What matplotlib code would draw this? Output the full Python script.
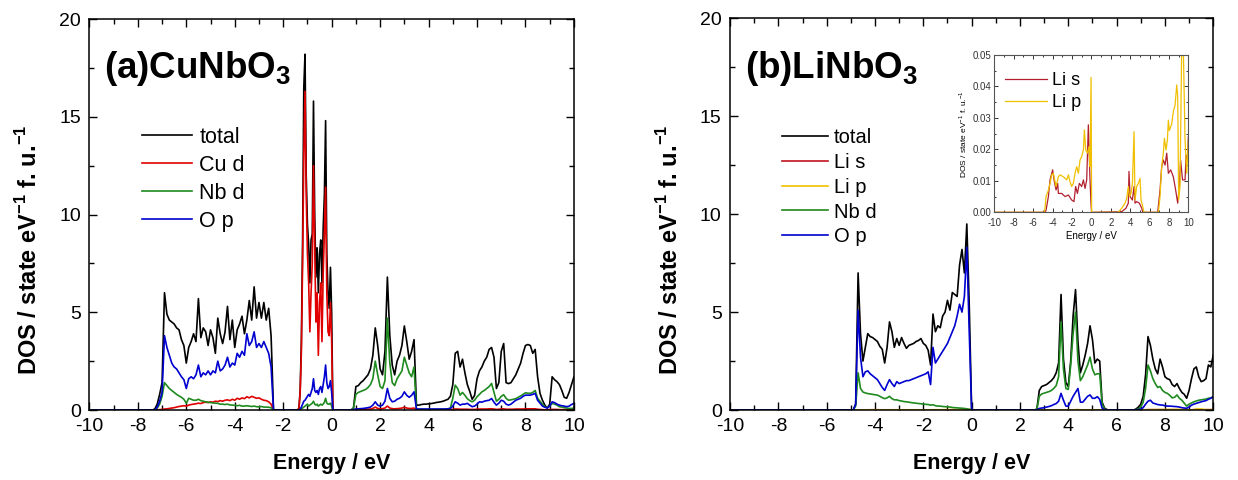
import numpy as np
import matplotlib
matplotlib.use("Agg")
import matplotlib.pyplot as plt
from matplotlib.ticker import MultipleLocator, FormatStrFormatter

plt.rcParams['font.family'] = ['Liberation Sans', 'DejaVu Sans']
plt.rcParams['mathtext.fontset'] = 'custom'
plt.rcParams['mathtext.rm'] = 'Liberation Sans'
plt.rcParams['mathtext.bf'] = 'Liberation Sans:bold'
plt.rcParams['axes.linewidth'] = 1.1
plt.rcParams['axes.unicode_minus'] = False

# ---------------- (a) CuNbO3 : partial DOS per band ----------------
E_a1 = np.round(np.arange(-7.4, -2.35, 0.1), 2)
tot_a1 = [0, 0.05, 0.3, 0.8, 1.4, 6.0, 4.9, 4.6, 4.5, 4.4,
          4.2, 4.1, 3.6, 3.3, 2.4, 3.2, 3.5, 3.9, 3.5, 5.7,
          3.7, 4.2, 4.0, 3.3, 4.1, 3.7, 2.9, 4.7, 3.9, 3.4,
          4.0, 5.3, 3.6, 4.6, 3.2, 4.1, 4.4, 4.8, 3.9, 4.6,
          5.6, 4.6, 6.3, 4.7, 5.5, 4.7, 5.5, 4.6, 5.2, 3.8, 0]
cud_a1 = [0, 0, 0.01, 0.02, 0.03, 0.05, 0.06, 0.08, 0.1, 0.12,
          0.15, 0.18, 0.2, 0.22, 0.2, 0.25, 0.28, 0.3, 0.32, 0.35,
          0.33, 0.38, 0.4, 0.38, 0.42, 0.4, 0.45, 0.43, 0.48, 0.45,
          0.5, 0.52, 0.48, 0.55, 0.5, 0.6, 0.55, 0.62, 0.58, 0.68,
          0.62, 0.7, 0.65, 0.6, 0.62, 0.55, 0.5, 0.48, 0.42, 0.3, 0]
nbd_a1 = [0, 0, 0.1, 0.3, 0.7, 1.4, 1.25, 1.1, 1.0, 0.9,
          0.8, 0.72, 0.65, 0.55, 0.35, 0.6, 0.55, 0.5, 0.5, 0.55,
          0.48, 0.45, 0.42, 0.4, 0.38, 0.36, 0.35, 0.34, 0.3, 0.3,
          0.28, 0.3, 0.26, 0.25, 0.24, 0.22, 0.24, 0.2, 0.2, 0.22,
          0.2, 0.18, 0.2, 0.17, 0.16, 0.18, 0.15, 0.15, 0.14, 0.12, 0]
op_a1 = [0, 0, 0.15, 0.45, 0.9, 3.8, 3.2, 2.8, 2.4, 2.2,
         2.1, 1.9, 1.7, 1.55, 1.1, 1.6, 1.7, 1.6, 1.8, 2.3,
         1.7, 1.9, 1.8, 2.0, 1.8, 2.0, 1.9, 2.5, 2.0, 2.1,
         2.3, 2.7, 2.2, 2.4, 2.3, 2.9, 2.7, 3.0, 2.8, 3.9,
         3.3, 3.5, 4.0, 3.2, 3.4, 3.2, 3.5, 3.2, 2.9, 2.2, 0]

E_a2 = np.round(np.arange(-1.40, 0.101, 0.05), 2)
tot_a2 = [0, 0.1, 1.0, 3.5, 8.6, 16.5, 18.2, 12.0, 9.5, 8.5,
          6.5, 8.7, 9.0, 15.8, 10.0, 6.8, 8.3, 6.0, 8.0, 8.7,
          6.5, 9.3, 11.0, 14.8, 8.0, 6.0, 5.2, 7.3, 5.0, 0, 0]
cud_a2 = [0, 0.1, 0.9, 3.0, 7.5, 13.0, 16.3, 11.0, 8.0, 6.5,
          4.0, 6.0, 7.5, 12.5, 8.5, 4.5, 6.0, 2.8, 5.5, 6.5,
          3.5, 7.0, 9.0, 11.4, 6.0, 4.0, 3.8, 5.5, 3.5, 0, 0]
nbd_a2 = [0, 0, 0.02, 0.05, 0.1, 0.15, 0.2, 0.25, 0.3, 0.2,
          0.25, 0.3, 0.35, 0.45, 0.3, 0.25, 0.3, 0.2, 0.25, 0.3,
          0.25, 0.3, 0.4, 0.6, 0.35, 0.3, 0.3, 0.35, 0.2, 0, 0]
op_a2 = [0, 0, 0.05, 0.15, 0.3, 0.45, 0.5, 0.6, 0.7, 0.8,
         0.7, 0.9, 1.1, 1.6, 1.0, 0.9, 1.0, 0.8, 1.1, 1.2,
         0.9, 1.3, 1.7, 2.3, 1.4, 1.1, 1.2, 1.5, 0.9, 0, 0]

E_a3 = np.round(np.arange(0.8, 10.001, 0.1), 2)
tot_a3 = [0, 0.1, 1.2, 1.25, 1.4, 1.5, 1.65, 1.8, 2.1, 2.8,
          4.2, 3.3, 2.1, 1.8, 3.0, 6.8, 3.8, 2.3, 1.8, 2.5,
          2.8, 3.3, 4.3, 3.5, 2.6, 3.0, 3.6, 0.25, 0.25, 0.28,
          0.3, 0.3, 0.32, 0.33, 0.35, 0.38, 0.4, 0.42, 0.45, 0.5,
          0.55, 0.7, 1.3, 2.9, 3.0, 2.2, 2.6, 1.9, 1.3, 0.95,
          0.55, 0.75, 1.6, 2.0, 2.2, 2.5, 2.7, 3.1, 3.2, 2.7,
          1.1, 1.4, 3.0, 3.4, 1.4, 1.35, 1.4, 1.6, 1.8, 2.1,
          2.4, 2.9, 3.3, 3.35, 3.3, 2.9, 3.1, 1.7, 0.85, 0.5,
          0.25, 0.1, 0.3, 1.7, 1.55, 1.45, 1.3, 1.0, 0.65, 0.6,
          0.9, 1.3, 1.7]
cud_a3 = [0, 0.01, 0.02, 0.02, 0.03, 0.03, 0.04, 0.04, 0.05, 0.08,
          0.15, 0.08, 0.06, 0.07, 0.1, 0.2, 0.1, 0.07, 0.06, 0.07,
          0.08, 0.1, 0.14, 0.1, 0.08, 0.08, 0.1, 0.01, 0.01, 0.01,
          0.01, 0.01, 0.01, 0.01, 0.01, 0.01, 0.01, 0.01, 0.01, 0.01,
          0.01, 0.02, 0.03, 0.05, 0.05, 0.04, 0.04, 0.04, 0.04, 0.03,
          0.03, 0.03, 0.04, 0.05, 0.05, 0.05, 0.05, 0.06, 0.06, 0.05,
          0.03, 0.04, 0.05, 0.06, 0.04, 0.04, 0.04, 0.04, 0.05, 0.05,
          0.05, 0.05, 0.06, 0.06, 0.06, 0.06, 0.06, 0.04, 0.03, 0.02,
          0.01, 0.01, 0.02, 0.03, 0.03, 0.03, 0.02, 0.02, 0.02, 0.02,
          0.02, 0.03, 0.03]
nbd_a3 = [0, 0.1, 0.8, 0.9, 0.95, 1.0, 1.05, 1.15, 1.3, 1.6,
          2.5, 1.8, 1.2, 1.1, 1.5, 4.7, 2.4, 1.4, 1.25, 1.6,
          1.8, 2.0, 2.7, 2.3, 1.9, 1.7, 2.2, 0.03, 0.03, 0.03,
          0.03, 0.03, 0.03, 0.03, 0.03, 0.03, 0.03, 0.04, 0.04, 0.05,
          0.06, 0.1, 0.6, 1.27, 1.1, 0.76, 0.9, 0.75, 0.58, 0.48,
          0.42, 0.5, 0.68, 0.8, 0.93, 1.0, 1.1, 1.2, 1.36, 0.9,
          0.45, 0.55, 0.7, 0.78, 0.6, 0.5, 0.52, 0.55, 0.58, 0.65,
          0.72, 0.8, 0.88, 0.86, 0.85, 0.9, 1.0, 0.6, 0.45, 0.3,
          0.17, 0.12, 0.2, 0.34, 0.3, 0.25, 0.17, 0.15, 0.12, 0.1,
          0.08, 0.08, 0.1]
op_a3 = [0, 0.03, 0.05, 0.06, 0.07, 0.08, 0.1, 0.12, 0.15, 0.25,
         0.42, 0.25, 0.2, 0.25, 0.45, 1.1, 0.6, 0.42, 0.45, 0.55,
         0.6, 0.7, 0.93, 0.75, 0.65, 0.75, 0.93, 0.05, 0.05, 0.05,
         0.05, 0.05, 0.05, 0.05, 0.05, 0.05, 0.05, 0.05, 0.05, 0.05,
         0.06, 0.08, 0.2, 0.42, 0.35, 0.25, 0.3, 0.3, 0.34, 0.25,
         0.17, 0.2, 0.3, 0.42, 0.4, 0.45, 0.48, 0.5, 0.59, 0.4,
         0.25, 0.35, 0.5, 0.45, 0.3, 0.25, 0.3, 0.4, 0.5, 0.55,
         0.6, 0.7, 0.76, 0.76, 0.76, 0.8, 0.85, 0.5, 0.35, 0.2,
         0.14, 0.1, 0.2, 0.42, 0.38, 0.3, 0.25, 0.22, 0.2, 0.17,
         0.2, 0.28, 0.34]

# ---------------- (b) LiNbO3 ----------------
E_b1 = np.round(np.arange(-4.9, 0.101, 0.1), 2)
tot_b1 = [0, 0.3, 7.0, 3.9, 2.5, 3.2, 3.9, 3.75, 3.7, 3.6,
          3.5, 3.25, 3.1, 2.4, 3.2, 4.5, 4.0, 3.2, 3.65, 3.3,
          3.7, 3.4, 3.15, 3.3, 3.35, 3.4, 3.5, 3.55, 3.65, 3.4,
          3.3, 3.05, 2.3, 4.9, 4.0, 4.3, 4.2, 4.8, 5.0, 5.6,
          5.1, 6.0, 5.9, 5.8, 7.4, 8.2, 7.0, 9.5, 5.4, 0, 0]
nbd_b1 = [0, 0.2, 1.9, 1.1, 0.92, 0.87, 0.84, 0.82, 0.8, 0.78,
          0.76, 0.7, 0.63, 0.58, 0.62, 0.7, 0.58, 0.52, 0.52, 0.48,
          0.46, 0.43, 0.42, 0.4, 0.38, 0.36, 0.35, 0.33, 0.32, 0.3,
          0.29, 0.28, 0.25, 0.27, 0.22, 0.2, 0.2, 0.18, 0.17, 0.16,
          0.15, 0.13, 0.12, 0.11, 0.1, 0.09, 0.08, 0.06, 0.04, 0, 0]
op_b1 = [0, 0.3, 5.1, 2.7, 1.7, 1.95, 2.0, 1.85, 1.75, 1.65,
         1.55, 1.35, 1.15, 1.0, 1.3, 1.55, 1.35, 1.2, 1.45, 1.35,
         1.4, 1.45, 1.5, 1.5, 1.55, 1.6, 1.65, 1.7, 1.75, 1.8,
         1.85, 1.95, 1.3, 3.2, 2.4, 2.6, 2.8, 3.0, 3.2, 3.4,
         3.7, 4.0, 4.3, 4.8, 5.4, 5.0, 5.8, 8.3, 4.0, 0, 0]

E_b2 = np.round(np.arange(2.6, 5.701, 0.1), 2)
tot_b2 = [0, 0.05, 1.0, 1.2, 1.25, 1.3, 1.4, 1.5, 1.65, 1.9,
          2.4, 5.9, 2.6, 1.4, 1.2, 2.5, 4.8, 6.15, 3.5, 1.9,
          2.3, 2.8, 3.4, 4.3, 3.6, 2.4, 2.6, 2.5, 0.4, 0.1,
          0.02, 0]
nbd_b2 = [0, 0.03, 0.7, 0.82, 0.86, 0.9, 0.94, 1.0, 1.1, 1.25,
          1.7, 4.5, 2.1, 1.1, 1.05, 2.3, 3.9, 5.0, 2.5, 1.5,
          1.7, 2.0, 2.3, 2.7, 2.1, 1.8, 1.85, 1.85, 0.3, 0.05,
          0.01, 0]
op_b2 = [0, 0.01, 0.08, 0.1, 0.12, 0.15, 0.18, 0.22, 0.28, 0.33,
         0.45, 0.85, 0.5, 0.2, 0.2, 0.45, 0.7, 0.9, 1.1, 0.4,
         0.4, 0.55, 0.7, 0.77, 0.6, 0.6, 0.68, 0.55, 0.1, 0.02,
         0, 0]

E_b3 = np.round(np.arange(6.7, 10.001, 0.1), 2)
tot_b3 = [0, 0.05, 0.15, 0.3, 0.7, 1.8, 3.75, 3.3, 2.6, 2.1,
          1.85, 2.6, 2.2, 1.7, 1.6, 1.55, 1.3, 1.2, 1.35, 1.1,
          0.9, 0.8, 0.6, 1.0, 1.6, 2.1, 2.2, 1.7, 1.45, 1.5,
          1.6, 2.3, 2.2, 2.8]
nbd_b3 = [0, 0.02, 0.05, 0.15, 0.4, 1.1, 2.3, 2.0, 1.6, 1.35,
          1.15, 1.2, 1.0, 0.9, 0.85, 0.75, 0.62, 0.65, 0.77, 0.6,
          0.5, 0.35, 0.2, 0.3, 0.36, 0.42, 0.46, 0.5, 0.52, 0.54,
          0.56, 0.6, 0.62, 0.68]
op_b3 = [0, 0.01, 0.02, 0.05, 0.12, 0.3, 0.45, 0.5, 0.36, 0.32,
         0.28, 0.26, 0.25, 0.22, 0.2, 0.2, 0.19, 0.18, 0.17, 0.15,
         0.12, 0.1, 0.09, 0.15, 0.25, 0.3, 0.34, 0.38, 0.42, 0.45,
         0.48, 0.55, 0.6, 0.68]

# Li s / Li p projections (tiny, shown magnified in the inset)
E_lis = [-10, -4.75, -4.67, -4.43, -4.26, -3.99, -3.85, -3.64, -3.47, -3.4,
         -3.06, -2.71, -2.37, -2.03, -1.79, -1.62, -1.44, -1.24, -1.0, -0.82,
         -0.65, -0.48, -0.31, -0.14, -0.03, 0.02, 3.13, 3.57, 3.81, 3.88,
         3.99, 4.23, 4.4, 4.5, 4.67, 4.95, 5.19, 5.3, 6.84, 7.08,
         7.25, 7.42, 7.6, 7.77, 7.94, 8.18, 8.45, 8.69, 8.9, 9.07,
         9.2, 9.4, 9.66, 9.76, 9.9, 10.0]
li_s = [0, 0, 0.0007, 0.005, 0.0103, 0.0135, 0.0103, 0.0071, 0.0092, 0.006,
        0.006, 0.005, 0.0055, 0.0039, 0.0034, 0.0082, 0.006, 0.0092, 0.0082, 0.0103,
        0.0076, 0.0103, 0.0278, 0.0103, 0.0023, 0, 0.0002, 0.0013, 0.0029, 0.013,
        0.005, 0.0039, 0.0082, 0.0029, 0.0034, 0.0029, 0.0013, 0, 0, 0.0071,
        0.0145, 0.0166, 0.015, 0.0188, 0.0124, 0.0135, 0.0113, 0.0071, 0.0029, 0.0082,
        0.0166, 0.0103, 0.0103, 0.0182, 0.0166, 0.024]
E_lip = [-10, -4.85, -4.78, -4.67, -4.43, -4.26, -4.09, -3.92, -3.64, -3.4,
         -3.23, -2.89, -2.54, -2.37, -2.2, -2.03, -1.86, -1.68, -1.51, -1.34,
         -1.17, -1.0, -0.82, -0.72, -0.58, -0.41, -0.24, -0.14, -0.03, 0.03,
         2.78, 3.13, 3.47, 3.64, 3.81, 3.92, 4.09, 4.23, 4.4, 4.5,
         4.67, 4.85, 5.02, 5.12, 5.3, 5.43, 6.91, 7.08, 7.25, 7.42,
         7.53, 7.7, 7.84, 7.94, 8.04, 8.28, 8.45, 8.63, 8.8, 8.9,
         9.0, 9.14, 9.31, 9.48, 9.66, 9.83, 10.0]
li_p = [0, 0, 0.0013, 0.005, 0.007, 0.0092, 0.0119, 0.0124, 0.0082, 0.0113,
        0.0119, 0.0113, 0.0103, 0.0119, 0.0097, 0.0082, 0.0092, 0.0124, 0.0145, 0.0124,
        0.0166, 0.0177, 0.0198, 0.0262, 0.0198, 0.0188, 0.0209, 0.0145, 0.0429, 0.0,
        0.0, 0.0013, 0.0029, 0.0044, 0.0082, 0.005, 0.006, 0.0092, 0.0256, 0.0039,
        0.0082, 0.0092, 0.0108, 0.0039, 0.0018, 0.0, 0.0, 0.005, 0.0145, 0.0188,
        0.0235, 0.0198, 0.023, 0.0293, 0.026, 0.028, 0.032, 0.034, 0.0405, 0.037,
        0.0039, 0.0082, 0.052, 0.052, 0.023, 0.0124, 0.023]

C_TOT, C_RED, C_GRN, C_BLU = '#000000', '#e00000', '#1f8a1f', '#0000d0'
C_LIS, C_LIP = '#c0141e', '#f0c000'
C_LIS_IN = '#b22030'


def join(bands, idx):
    """Concatenate band segments into one curve spanning -10..10 eV."""
    es = [np.array([-10.0])]
    vs = [np.array([0.0])]
    for b in bands:
        es.append(np.asarray(b[0], float))
        vs.append(np.asarray(b[idx], float))
    e = np.concatenate(es)
    v = np.concatenate(vs)
    if e[-1] < 10:
        e = np.append(e, 10.0)
        v = np.append(v, 0.0)
    return e, v


def style_main(ax, title):
    ax.set_xlim(-10, 10)
    ax.set_ylim(0, 20)
    ax.xaxis.set_major_locator(MultipleLocator(2))
    ax.xaxis.set_minor_locator(MultipleLocator(1))
    ax.yaxis.set_major_locator(MultipleLocator(5))
    ax.yaxis.set_minor_locator(MultipleLocator(2.5))
    ax.tick_params(which='both', direction='in', top=True, right=True,
                   labelsize=14, width=1.0)
    ax.tick_params(which='major', length=6, pad=6)
    ax.tick_params(which='minor', length=3.5)
    ax.set_xlabel('Energy / eV', fontsize=15.5, fontweight='bold', labelpad=13)
    ax.set_ylabel(r'DOS / state eV$^{\mathbf{-1}}$ f. u.$^{\mathbf{-1}}$',
                  fontsize=17, fontweight='bold')
    ax.yaxis.set_label_coords(-0.097, 0.41)
    ax.text(0.03, 0.848, title, transform=ax.transAxes, fontsize=26.5,
            fontweight='bold', va='baseline', ha='left')


fig = plt.figure(figsize=(12.38, 4.8), dpi=100)

# ---- panel (a)
ax1 = fig.add_axes([0.0722, 0.1458, 0.3914, 0.8146])
bands_a = [(E_a1, tot_a1, cud_a1, nbd_a1, op_a1),
           (E_a2, tot_a2, cud_a2, nbd_a2, op_a2),
           (E_a3, tot_a3, cud_a3, nbd_a3, op_a3)]
lw = 1.2
for idx, col, lab in [(1, C_TOT, 'total'), (2, C_RED, 'Cu d'),
                      (3, C_GRN, 'Nb d'), (4, C_BLU, 'O p')]:
    e, v = join(bands_a, idx)
    ax1.plot(e, v, color=col, lw=lw, label=lab)
style_main(ax1, '(a)CuNbO$_\\mathbf{3}$')
ax1.legend(loc='upper left', bbox_to_anchor=(0.108, 0.725), frameon=False,
           fontsize=15.5, handlelength=2.35, handletextpad=0.33,
           labelspacing=0.33, borderpad=0, borderaxespad=0)

# ---- panel (b)
ax2 = fig.add_axes([0.5897, 0.1458, 0.3903, 0.816])
bands_b = [(E_b1, tot_b1, nbd_b1, op_b1),
           (E_b2, tot_b2, nbd_b2, op_b2),
           (E_b3, tot_b3, nbd_b3, op_b3)]
e, v = join(bands_b, 1)
ax2.plot(e, v, color=C_TOT, lw=lw, label='total')
ax2.plot(E_lis, li_s, color=C_LIS, lw=lw, label='Li s')
ax2.plot(E_lip, li_p, color=C_LIP, lw=lw, label='Li p')
e, v = join(bands_b, 2)
ax2.plot(e, v, color=C_GRN, lw=lw, label='Nb d')
e, v = join(bands_b, 3)
ax2.plot(e, v, color=C_BLU, lw=lw, label='O p')
style_main(ax2, '(b)LiNbO$_\\mathbf{3}$')
ax2.legend(loc='upper left', bbox_to_anchor=(0.107, 0.72), frameon=False,
           fontsize=14.5, handlelength=2.3, handletextpad=0.3,
           labelspacing=0.29, borderpad=0, borderaxespad=0)

# ---- inset: Li projections magnified
axi = fig.add_axes([0.8032, 0.5577, 0.1567, 0.3277])
axi.plot(E_lis, li_s, color=C_LIS_IN, lw=0.9, label='Li s')
axi.plot(E_lip, li_p, color=C_LIP, lw=0.9, label='Li p')
axi.set_xlim(-10, 10)
axi.set_ylim(0, 0.05)
axi.xaxis.set_major_locator(MultipleLocator(2))
axi.xaxis.set_minor_locator(MultipleLocator(1))
axi.yaxis.set_major_locator(MultipleLocator(0.01))
axi.yaxis.set_minor_locator(MultipleLocator(0.005))
axi.yaxis.set_major_formatter(FormatStrFormatter('%.2f'))
for s in axi.spines.values():
    s.set_linewidth(0.8)
    s.set_color('#555555')
axi.tick_params(which='both', direction='in', top=True, right=True,
                labelsize=7, width=0.7, colors='#333333')
axi.tick_params(axis='x', pad=4)
axi.tick_params(axis='y', pad=2)
axi.tick_params(which='major', length=3)
axi.tick_params(which='minor', length=1.5)
axi.set_xlabel('Energy / eV', fontsize=7, labelpad=2)
axi.set_ylabel(r'DOS / state eV$^{-1}$ f. u.$^{-1}$', fontsize=6, labelpad=3)
axi.legend(loc='upper left', bbox_to_anchor=(0.055, 0.89), frameon=False,
           fontsize=13, handlelength=2.3, handletextpad=0.3,
           labelspacing=0.25, borderpad=0, borderaxespad=0)

fig.savefig('out.png', dpi=100)
